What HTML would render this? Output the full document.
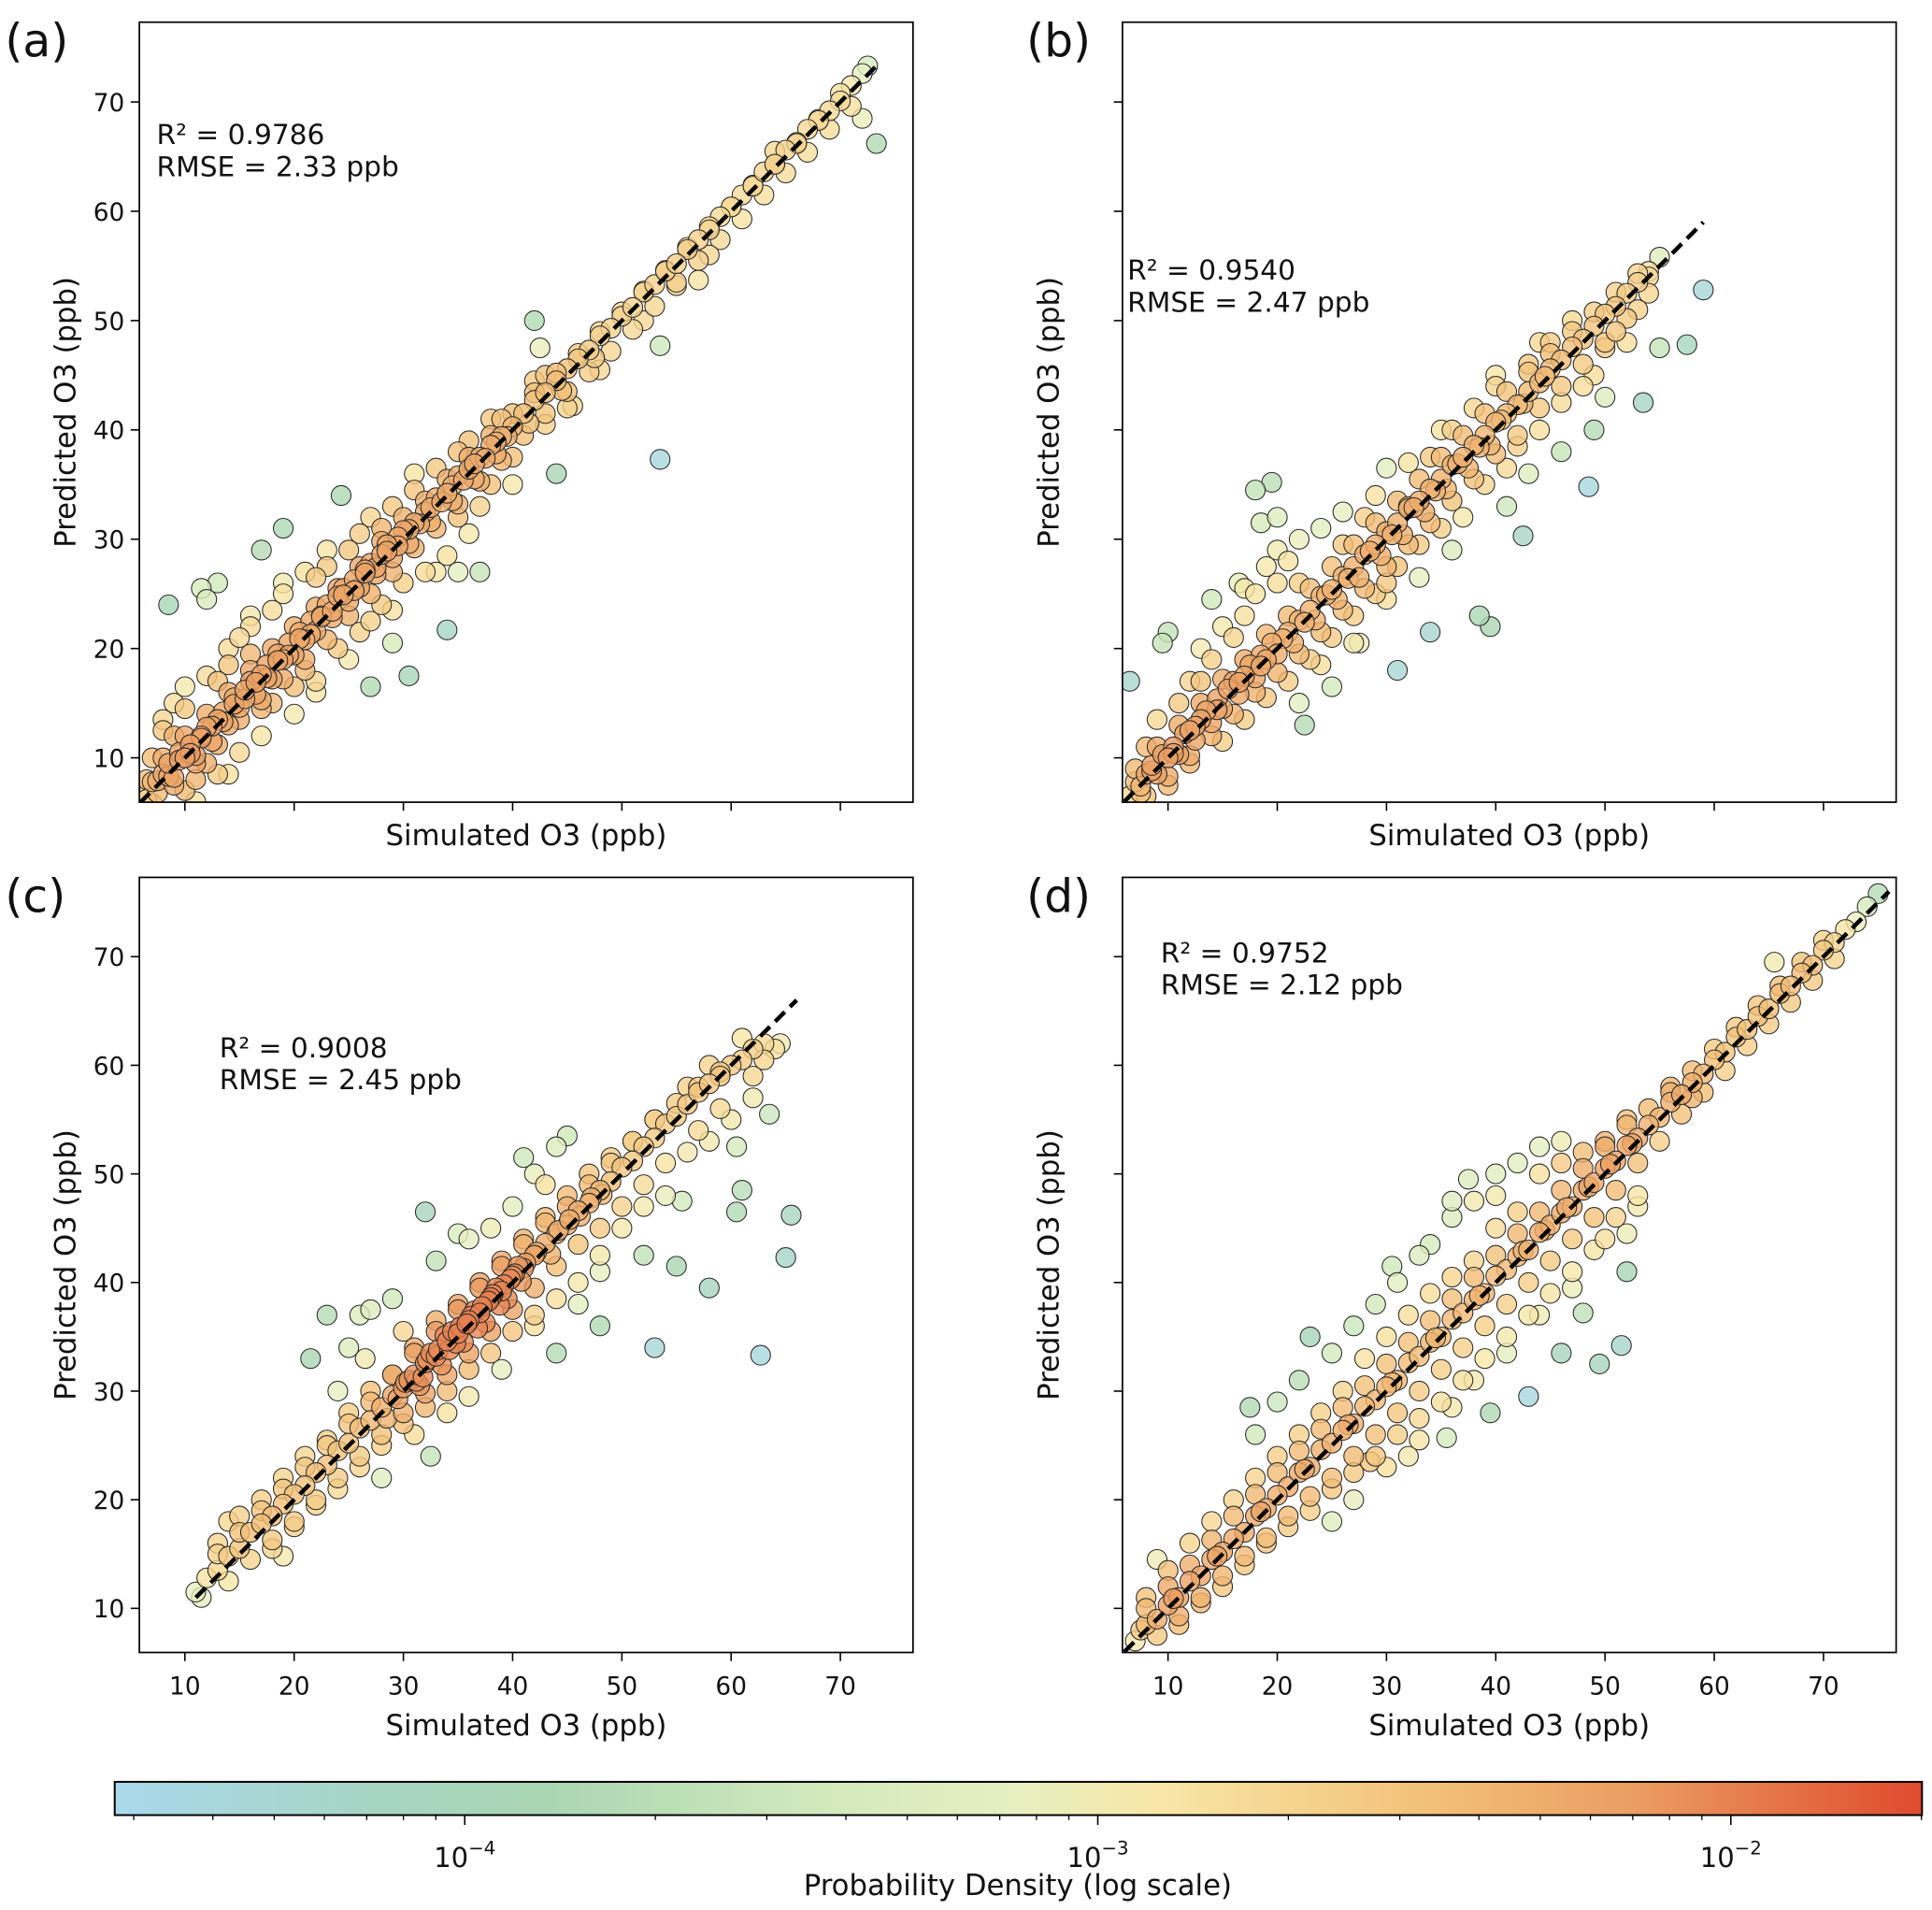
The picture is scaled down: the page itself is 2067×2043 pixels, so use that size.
<!DOCTYPE html>
<html><head><meta charset="utf-8"><style>
html,body{margin:0;padding:0;background:#fff}
svg{display:block;font-family:"DejaVu Sans","Liberation Sans",sans-serif}
</style></head>
<body>
<svg id="fig" width="2067" height="2043" viewBox="0 0 1568 1550" xmlns="http://www.w3.org/2000/svg">
<defs>
<linearGradient id="cmap" x1="0" x2="1" y1="0" y2="0">
<stop offset="0" stop-color="#a9d8ec"/>
<stop offset="0.14" stop-color="#a6d5c4"/>
<stop offset="0.24" stop-color="#aad6b2"/>
<stop offset="0.4" stop-color="#d4eabd"/>
<stop offset="0.5" stop-color="#e7efc0"/>
<stop offset="0.58" stop-color="#f8e6a6"/>
<stop offset="0.72" stop-color="#f3c27a"/>
<stop offset="0.84" stop-color="#eb9e62"/>
<stop offset="1" stop-color="#df4a2e"/>
</linearGradient>
</defs>
<g id="panels"></g>
<g id="colorbar"></g>
</svg>
<script>
// ---- data ----
const panelLabels = ["(a)","(b)","(c)","(d)"];
const r2Texts = ["R² = 0.9786","R² = 0.9540","R² = 0.9008","R² = 0.9752"];
const rmseTexts = ["RMSE = 2.33 ppb","RMSE = 2.47 ppb","RMSE = 2.45 ppb","RMSE = 2.12 ppb"];
const xTicks = [10,20,30,40,50,60,70];
const yTicks = [10,20,30,40,50,60,70];
const lineStart = [5.9, 6.0, 11.0, 6.0];
const lineEnd = [73.5, 59.0, 66.0, 76.0];
const cbTicks = [-4,-3,-2];

const simA = [6,7,7.5,8,8.5,9,9.5,10,10.5,11,11.5,12,12.5,13,13.5,14,14.5,15,15.5,16,16.5,17,17.5,18,18.5,19,19.5,20,20.5,21,21.5,22,22.5,23,23.5,24,24.5,25,25.5,26,26.5,27,27.5,28,28.5,29,29.5,30,30.5,31,32,32.5,33,34,34.5,35,36,36.5,37,38,38.5,39,40,41,41.5,42,43,44,44.5,45,46,47,47.5,48,49,50,51,52,53,54,55,56,57,58,59,60,61,62,63,64,65,66,67,68,69,70,71,72,72.5,
7,8,8,9,10,10,11,12,13,14,15,16,16,17,18,18,19,20,21,22,22,23,24,25,26,26,27,28,28,29,30,31,32,33,34,35,36,37,38,39,40,42,43,45,48,52,55,58,64,
8.5,11.5,12,13,17,19,24.3,30.5,34,29,27,35,37,14,42,42.5,43,53.5,53.5,44,72,73.3,45.5,57];
const predA = [6.5,7.8,6.8,8.5,9.5,8.2,10.5,10,11.2,10.2,12,12.8,11.5,13.5,14.2,13,15.5,14.6,16.2,17,15.8,17.6,18.5,17.2,19.5,19,20.5,19.4,21.5,20.8,22.5,21.6,23,24,22.8,24.8,25.5,24.3,26.3,25.6,27.2,27.8,26.8,28.6,29.5,28.3,30.2,30.8,29.6,31.5,32.5,31.6,33.8,34.2,33.5,35.8,36.4,35.5,37.5,38.6,37.8,39.4,40.3,41.5,40.6,42.7,43.4,44.5,43.6,45.6,46.5,47.3,46.6,48.6,49.3,50.4,51.2,52.6,53.3,54.5,55.2,56.7,57.4,58.3,59.5,60.4,61.5,62.3,63.6,64.3,65.6,66.3,67.5,68.4,69.2,70.8,71.5,72.6,73.3,
10,12.5,13.5,12,14.5,7,8,9.5,17,18.5,21,19.5,22,14.5,15,23.5,25,16.5,18,26.5,17,27.5,20,29,21.5,30.5,22.5,31,24,33,26,34.5,27,36.5,28.5,32,39,33,35,41,37.5,44.5,40.5,42,45.5,50,53.5,56,65.5,
24,25.5,24.5,26,29,31,34,17.5,21.7,20.5,16.5,27,27,8.5,50,47.5,45,47.7,37.3,36,68.5,66.2,42.2,53.7];
const extraA = [[6.5,8],[7,5.8],[8,10],[9,7.5],[10,12],[11,9.5],[12,14],[13,11.2],[14,16],[15,13.5],[16,18],[17,15.3],[18,20],[19,17.2],[20,22],[21,19],[22,23.8],[23,20.8],[24,25.5],[25,23],[26,27.5],[27,25],[28,29.8],[29,27],[30,32],[31,29.2],[32,33.5],[33,31],[34,35.5],[35,33.2],[36,37.5],[37,35.3],[38,39.5],[39,37.2],[40,41.5],[41,39.5],[42,43.4],[43,41.5],[44,45.2],[45,43.5],[46,47],[47,45.3],[48,49],[49,47.2],[50,50.8],[51,49.2],[52,52.7],[53,51.3],[54,54.6],[55,53.2],[56,56.5],[57,55.5],[58,58.6],[59,57.4],[60,60.4],[61,59.3],[62,62.4],[63,61.5],[64,64.3],[65,63.5],[66,66.2],[67,65.4],[68,68.3],[69,67.5],[70,70.1],[71,69.6],
[6.5,6.2],[7.5,7.9],[8.5,8.3],[9.5,9.8],[10.5,10.4],[11.5,11.8],[12.5,12.9],[13.5,13.3],[14.5,14.9],[15.5,15.4],[16.5,16.9],[17.5,17.3],[18.5,18.9],[19.5,19.4],[20.5,20.9],[21.5,21.3],[22.5,22.9],[23.5,23.4],[24.5,24.9],[25.5,25.3],[26.5,26.9],[27.5,27.4],[28.5,28.9],[29.5,29.4],[30.5,30.9],[31.5,31.4],[32.5,32.9],[33.5,33.4],[34.5,34.9],[35.5,35.4],[36.5,36.9],[37.5,37.4],[38.5,38.9],[39.5,39.4],
[9,15],[10,16.5],[11,6],[12,17.5],[13,8.5],[14,20],[15,10.5],[16,23],[17,12],[19,26],[20,14],[21,27],[22,16],[23,29],[25,19],[27,32],[29,23.5],[31,36],[33,27],[35,38],[36,30.5],[38,41],[40,35]];

const simB = [6.5,7,7.5,8,8.5,9,9.5,10,10.5,11,11.5,12,12.5,13,13.5,14,14.5,15,15.5,16,16.5,17,17.5,18,18.5,19,19.5,20,21,21.5,22,23,23.5,24,25,25.5,26,27,27.5,28,29,29.5,30,31,31.5,32,33,33.5,34,35,35.5,36,37,37.5,38,39,39.5,40,41,42,43,44,45,46,47,48,49,50,51,52,53,54,55,
8,9,10,11,12,13,14,15,16,17,17,18,19,19,20,21,22,22,23,24,25,26,27,28,29,30,30,31,32,33,34,35,36,37,38,39,40,41,42,43,44,45,46,47,48,49,50,51,52,53,54,
6.5,9.5,10,14,18,19.5,20,18.5,16.5,22.5,25,31,34,38.5,39.5,42.5,48.5,53.5,57.5,59,55,49,27.5];
const predB = [6.5,7.8,6.8,8.5,9.3,8.5,10.3,10,11,10.3,12.2,12.5,11.6,13.5,14.3,13.2,15.4,14.5,16.3,17,15.8,17.5,18.5,17.3,19.4,19,20.5,19.5,21.5,20.5,22.6,23.5,22.6,24.8,25.4,24.5,26.6,27.5,26.5,28.6,29.5,28.5,30.7,31.5,30.4,32.8,33.5,32.5,34.6,35.5,34.6,36.8,37.5,36.5,38.6,39.5,38.6,40.7,41.5,42.3,43.5,44.3,45.6,46.4,47.6,48.3,49.5,50.6,51.3,52.5,53.5,54.5,55.8,
11,13.5,7.5,15,9.5,17,19,11.5,21,13.5,23,25,15.5,27.5,29,17,30,26,19,31,21,29.5,23,32,25,36.5,26,27.5,33,29.5,37.5,31,40,32,42,35,44,36.5,38.5,46,40,48,42.5,50,44,45,47.5,49,48,51,54,
17,20.5,21.5,24.5,34.5,35.2,32,31.5,26,13,16.5,18,21.5,23,22,30.3,34.8,42.5,47.8,52.8,47.5,40,20.5];
const extraB = [[7,9],[8,6.5],[9,11],[10,8.3],[11,13],[12,10.2],[13,15],[14,12],[15,17.2],[16,14],[17,19],[18,16],[19,21.3],[20,17.8],[21,23],[22,19.5],[23,25.5],[24,21.5],[25,27.5],[26,23.5],[27,29.5],[28,25.5],[29,31.5],[30,27.5],[31,33.5],[32,29.5],[33,35.5],[34,31.5],[35,37.5],[36,33.5],[37,39.5],[38,35.5],[39,41.5],[40,37.8],[41,43.5],[42,39.5],[43,45.3],[44,42],[45,47],[46,44],[47,49],[48,46],[49,50.8],[50,48],[51,52.6],[52,50.2],[53,54.3],[54,52.5],
[7.5,7.4],[8.5,8.8],[10.5,10.4],[12.5,12.9],[14.5,14.4],[16.5,16.9],[18.5,18.4],[20.5,20.9],[22.5,22.4],[24.5,24.9],[26.5,26.4],[28.5,28.9],[30.5,30.4],[32.5,32.9],[34.5,34.4],[36.5,36.9],[38.5,38.4],[40.5,40.9],[42.5,42.4],[44.5,44.9],
[12,17],[13,20],[15,22],[17,25.5],[20,26],[21,28],[22,15],[24,18.5],[26,32.5],[27,20.5],[29,34],[30,24.5],[32,37],[33,26.5],[35,40],[36,29],[40,45],[41,33],[43,36],[44,48],[46,38],[50,43]];

const simC = [11,11.5,12,13,14,15,16,17,18,19,20,21,22,23,24,25,26,27,28,28.5,29,30,30.5,31,31.5,32,32.5,33,33.5,34,34.5,35,35.5,36,36.5,37,37.5,38,38.5,39,39.5,40,40.5,41,42,43,43.5,44,45,46,47,48,49,50,51,52,53,54,55,56,57,58,59,60,61,62,63,64,64.5,
13,14,17,18,19,20,21,22,23,24,25,26,26.5,27,28,29,30,31,32,33,34,35,36,37,38,39,40,41,42,43,44,45,46,47,48,49,50,51,52,53,54,55,56,57,58,59,60,62,63,
19,21.5,23,26,32,32.5,41,44,45,48,52,53,55,55.5,58,60.5,61,62.7,63.5,65,65.5,60.5,15];
const predC = [11.5,11,12.8,13.5,14.8,15.5,17,17.8,18.5,19.6,20.5,21.3,22.5,23.2,24.5,25.2,26.6,27.3,28.5,27.5,29.6,30.3,31,31.5,30.5,32.6,33.5,33.2,32.4,34.6,35.5,35.3,34.5,36.5,37.4,37.2,36.3,38.6,39.5,39.2,38.5,40.6,41.5,41.3,42.5,43.6,42.6,44.5,45.3,46.6,47.3,48.5,49.3,50.6,51.2,52.5,53.3,54.6,55.3,56.4,57.5,58.3,59.4,60,60.5,61.5,62,61.5,62,
16,18,20,15.5,22,17.5,24,19.5,25.5,21,28,23,33,30,25,31.5,27,34,28.5,36.5,30,38,32,40,33.5,42,35.5,44,37,46,38.5,48,40,50,42.5,51.5,45,53,47,55,48,56.5,52,58,53,59,55,57,60.5,
14.8,33,37,37,46.5,24,51.5,52.5,53.5,36,42.5,34,41.5,47.5,39.5,46.5,48.5,33.3,55.5,42.3,46.2,52.5,18.5];
const extraC = [[13,15],[14,12.5],[15,17],[16,14.5],[17,19],[18,16.3],[19,21],[20,18],[21,23],[22,20],[23,25],[24,22],[25,27],[26,24],[27,29],[28,26],[29,31.5],[30,28],[31,33.5],[32,29.8],[33,35.5],[34,31.5],[35,37.5],[36,33.5],[37,39.5],[38,35.5],[39,41.5],[40,37.5],[41,43.5],[42,39.5],[43,45.5],[44,41.5],[45,47],[46,43.5],[47,49],[48,45],[49,51],[50,47],[51,53],[52,49],[53,55],[54,51],[56,58],[57,54],[58,60],[59,56],[61,62.5],[62,59],
[29.5,29.3],[30.2,30.8],[31.2,30.9],[32.2,32.9],[33.2,33.8],[34.2,33.8],[35.2,35.9],[35.8,36.2],[36.2,36.9],[37.2,37.8],[37.8,38.3],[38.2,38.9],[39.2,39.8],[39.8,40.3],[40.2,40.8],[41.2,41.8],[42.2,42.8],[36.8,35.8],[34.8,34.4],[33.8,35.1],[38.8,37.9],[40.8,40.1],[31.8,31.3],[44.2,44.8],[45.2,45.8],[46.2,46.1],[47.2,47.8],[48.2,48.1],
[24,30],[25,34],[27,37.5],[29,38.5],[30,35.5],[33,42],[35,44.5],[36,44],[38,45],[40,47],[42,50],[43,49],[28,22],[31,26],[34,28],[36,29.5],[39,32],[42,36],[44,33.5],[46,38],[48,41]];

const simD = [7,7.5,8,9,10,11,12,13,14,15,16,17,18,19,20,21,22,23,24,25,26,27,28,29,30,31,32,33,34,35,36,37,38,39,40,41,42,43,44,45,46,47,48,49,50,51,52,53,54,55,56,57,58,59,60,61,62,63,64,65,66,67,68,69,70,71,72,73,74,75,
8,10,11,12,13,14,15,16,17,18,19,20,21,22,23,24,25,26,27,28,29,30,31,32,33,34,35,36,37,38,39,40,41,42,43,44,45,46,47,48,49,50,51,52,53,56,58,
17.5,18,23,30.5,33,37.5,36,40,28.5,35.5,39.5,43,46,48,49.5,51.5,52,52,65.5,32,25,9];
const predD = [7,8,8.5,9,10.3,11,12.5,13,14.5,15.2,16.4,17,18.5,19.2,20.4,21.2,22.5,23,24.6,25.2,26.4,27,28.6,29.2,30.4,31,32.6,33.2,34.5,35,36.6,37.2,38.4,39,40.6,41.2,42.4,43,44.6,45.3,46.4,47,48.5,49.2,50.5,51.2,52.6,53.3,54.5,55.2,56.6,57.3,58.4,59.2,60.5,61.2,62.6,63.3,64.5,65.2,66.6,67.3,68.5,69.2,70.6,71.3,72.5,73.2,74.6,75.8,
11,13.5,8.5,16,10.5,18,12,20,14,22,16,24,17.5,26,19,28,21,30,22.5,33,24,35,26,37,27.5,39,29,40.5,31,42,33,45,35,46.5,37,50,39,51,41,52,43,53,46,55,48,58,57,
28.5,26,35,41.5,42.5,49.5,47.5,48,23.5,25.7,28,29.5,33.5,37.2,32.5,34.2,41,44.5,69.5,24,18,14.5];
const extraD = [[8,10],[9,7.5],[10,12],[11,9.3],[12,14],[13,11],[14,16.3],[15,13],[16,18.5],[17,14.8],[18,20.5],[19,16.5],[20,22.5],[21,18.5],[22,24.5],[23,20.3],[24,26.5],[25,22],[26,28.5],[27,24],[28,30.5],[29,26],[30,32.5],[31,28],[32,34.5],[33,30],[34,36.5],[35,32],[36,38.5],[37,34],[38,40.5],[39,36],[40,42.5],[41,38],[42,44.5],[43,40],[44,46.5],[45,42],[46,48.5],[47,44],[48,50.5],[49,46],[50,52.5],[51,48.5],[52,54.5],[53,51],[54,56],[55,53],[56,57.5],[57,55.5],[58,59.5],[59,57.5],[60,61.5],[61,59.5],[62,63.5],[63,61.8],[64,65.5],[65,63.8],[66,67.3],[67,65.8],[68,69.5],[69,67.8],[70,71.5],[71,69.8],
[20,29],[22,31],[25,33.5],[27,36],[29,38],[31,40],[34,43.5],[36,46],[38,47.5],[40,50],[42,51],[44,52.5],[46,53],[27,20],[30,23],[33,25.5],[36,28.5],[38,31],[41,33.5],[44,37],[47,39.5],[50,44],[53,47],
[10.5,10.9],[14.5,14.8],[18.5,18.9],[22.5,22.8],[26.5,26.9],[30.5,30.8],[34.5,34.9],[38.5,38.8],[42.5,42.9],[44.5,44.8],[46.5,46.9],[48.5,48.8],[50.5,50.9],[52.5,52.8]];

const simAll = [simA, simB, simC, simD];
const predAll = [predA, predB, predC, predD];
const extraAll = [extraA, extraB, extraC, extraD];

// ---- layout ----
const frames = [
 {x0:113,x1:741,y0:18,y1:651},
 {x0:911,x1:1539,y0:18,y1:651},
 {x0:113,x1:741,y0:712,y1:1341},
 {x0:911,x1:1539,y0:712,y1:1341}
];
const annPos = [[127,109],[915,219],[178,850],[942,773]];
const X_MIN = 5.83, X_MAX = 76.65, Y_MIN = 5.94, Y_MAX = 77.3;
const NS = "http://www.w3.org/2000/svg";
function mk(tag, attrs, parent){const e=document.createElementNS(NS,tag);for(const k in attrs)e.setAttribute(k,attrs[k]);if(parent)parent.appendChild(e);return e;}

const cmapStops = [[0,[169,216,236]],[0.14,[166,213,196]],[0.24,[170,214,178]],[0.4,[212,234,189]],[0.5,[231,239,192]],[0.58,[248,230,166]],[0.72,[243,194,122]],[0.84,[235,158,98]],[1,[223,74,46]]];
function cmap(t){t=Math.max(0,Math.min(1,t));for(let i=1;i<cmapStops.length;i++){if(t<=cmapStops[i][0]){const a=cmapStops[i-1],b=cmapStops[i];const f=(t-a[0])/(b[0]-a[0]);const c=a[1].map((v,j)=>Math.round(v+(b[1][j]-v)*f));return `rgb(${c[0]},${c[1]},${c[2]})`;}}return "rgb(223,74,46)";}

const root = document.getElementById('panels');
frames.forEach((f,p)=>{
  const xs = v => f.x0 + (v - X_MIN)/(X_MAX - X_MIN)*(f.x1-f.x0);
  const ys = v => f.y1 - (v - Y_MIN)/(Y_MAX - Y_MIN)*(f.y1-f.y0);
  const g = mk('g',{},root);
  
  
  const cp = mk('clipPath',{id:'clip'+p},g);
  mk('rect',{x:f.x0,y:f.y0,width:f.x1-f.x0,height:f.y1-f.y0},cp);
  const pts = mk('g',{'clip-path':`url(#clip${p})`},g);
  
  
  const sx = simAll[p].slice(0, Math.min(simAll[p].length, predAll[p].length));
  const py = predAll[p].slice(0, sx.length);
  extraAll[p].forEach(q=>{sx.push(q[0]);py.push(q[1]);});
  const n = sx.length;
  const dens = [];
  for(let i=0;i<n;i++){let s=0;for(let j=0;j<n;j++){const dx=sx[i]-sx[j],dy=py[i]-py[j];s+=Math.exp(-(dx*dx+dy*dy)/(2*2.0*2.0));}dens.push(s);}
  const lmin=Math.log(Math.min(...dens)), lmax=Math.log(Math.max(...dens));
  const topT = p===2 ? 0.9 : 0.84;
  const order=[...Array(n).keys()].sort((a,b)=>dens[a]-dens[b]);
  order.forEach(i=>{
    const fr = (Math.log(dens[i])-lmin)/(lmax-lmin||1);
    const t = 0.05 + Math.pow(fr,0.8)*(topT-0.05);
    const c = mk('circle',{cx:xs(sx[i]).toFixed(1),cy:ys(py[i]).toFixed(1),r:8,fill:cmap(t),'fill-opacity':0.8,stroke:'#2a2a2a','stroke-width':0.8},pts);
    
    
  });
  const ln = mk('line',{x1:xs(lineStart[p]),y1:ys(lineStart[p]),x2:xs(lineEnd[p]),y2:ys(lineEnd[p]),stroke:'#000','stroke-width':3.4,'stroke-dasharray':'11,6','clip-path':`url(#clip${p})`},g);
  
  
  const fr = mk('rect',{x:f.x0,y:f.y0,width:f.x1-f.x0,height:f.y1-f.y0,fill:'none',stroke:'#000','stroke-width':1.3},g);
  
  
  const showX = p>=2, showY = (p%2===0);
  xTicks.forEach(v=>{
    const x=xs(v);
    const tk=mk('line',{x1:x,y1:f.y1,x2:x,y2:f.y1+7,stroke:'#000','stroke-width':1.2},g);
    
    
    if(showX){const tl=mk('text',{x:x,y:f.y1+34,'font-size':20,'text-anchor':'middle',fill:'#111'},g);tl.textContent=v;
      
      }
  });
  yTicks.forEach(v=>{
    const y=ys(v);
    const tk=mk('line',{x1:f.x0-7,y1:y,x2:f.x0,y2:y,stroke:'#000','stroke-width':1.2},g);
    
    
    if(showY){const tl=mk('text',{x:f.x0-12,y:y+7.5,'font-size':20,'text-anchor':'end',fill:'#111'},g);tl.textContent=v;
      
      }
  });
  const xl=mk('text',{x:(f.x0+f.x1)/2,y:(p<2?686:1408),'font-size':23.3,'text-anchor':'middle',fill:'#111'},g);
  xl.textContent='Simulated O3 (ppb)';
  
  
  const ycx = f.x0 - 60, ycy=(f.y0+f.y1)/2;
  const yl=mk('text',{x:ycx,y:ycy+8,'font-size':23.3,'text-anchor':'middle',fill:'#111',transform:`rotate(-90 ${ycx} ${ycy})`},g);
  yl.textContent='Predicted O3 (ppb)';
  
  
  const pl=mk('text',{x:(p%2===0 ? 4 : 833),y:f.y0+28,'font-size':37,fill:'#111'},g);
  pl.textContent=panelLabels[p];
  
  
  const t1=mk('text',{x:annPos[p][0],y:annPos[p][1]+8,'font-size':22.5,fill:'#111'},g);
  t1.textContent=r2Texts[p];
  
  
  const t2=mk('text',{x:annPos[p][0],y:annPos[p][1]+34,'font-size':22.5,fill:'#111'},g);
  t2.textContent=rmseTexts[p];
  
  
});

// colorbar
const cb = document.getElementById('colorbar');
const CB_X0=93, CB_X1=1560, CB_Y0=1446, CB_Y1=1473, LMIN=-4.553, LMAX=-1.698;
const cbx = l => CB_X0 + (l-LMIN)/(LMAX-LMIN)*(CB_X1-CB_X0);
const bar = mk('rect',{x:CB_X0,y:CB_Y0,width:CB_X1-CB_X0,height:CB_Y1-CB_Y0,fill:'url(#cmap)',stroke:'#000','stroke-width':1.5},cb);


for(let d=-5; d<=-2; d++){
  for(let m=2;m<=9;m++){
    const l=d+Math.log10(m);
    if(l<LMIN||l>LMAX) continue;
    const tk=mk('line',{x1:cbx(l),y1:CB_Y1,x2:cbx(l),y2:CB_Y1+4,stroke:'#000','stroke-width':1},cb);
    
    
  }
}
cbTicks.forEach(l=>{
  const x=cbx(l);
  const tk=mk('line',{x1:x,y1:CB_Y1,x2:x,y2:CB_Y1+8,stroke:'#000','stroke-width':1.2},cb);
  
  
  const tl=mk('text',{x:x,y:CB_Y1+42,'font-size':22,'text-anchor':'middle',fill:'#111'},cb);
  
  
  const a=mk('tspan',{},tl); a.textContent='10';
  const b=mk('tspan',{dy:-10,'font-size':15},tl); b.textContent='−'+Math.abs(l);
});
const cl=mk('text',{x:826,y:1538,'font-size':23.3,'text-anchor':'middle',fill:'#111'},cb);
cl.textContent='Probability Density (log scale)';


</script>
</body></html>
